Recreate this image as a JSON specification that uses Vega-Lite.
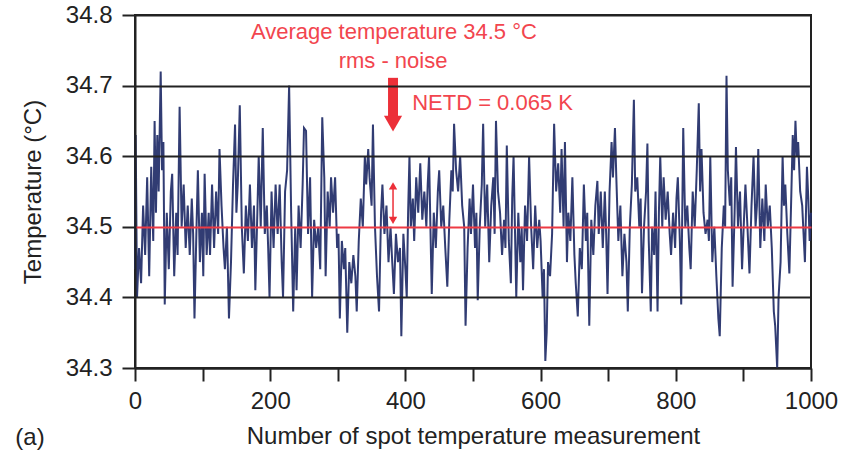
{
  "$schema": "https://vega.github.io/schema/vega-lite/v6.json",
  "width": 676,
  "height": 353,
  "autosize": "none",
  "padding": {"left": 135, "top": 15, "right": 41, "bottom": 83},
  "background": "white",
  "config": {
    "font": "Liberation Sans",
    "view": {"stroke": "#222", "strokeWidth": 2}
  },
  "datasets": {
    "series": [
{"n":0,"t":34.44},{"n":1,"t":34.63},{"n":3,"t":34.40},{"n":6,"t":34.47},{"n":9,"t":34.42},{"n":12,"t":34.53},{"n":15,"t":34.46},{"n":18,"t":34.57},{"n":21,"t":34.43},{"n":24,"t":34.585},{"n":27,"t":34.48},{"n":29,"t":34.65},{"n":31,"t":34.52},{"n":33,"t":34.63},{"n":35,"t":34.55},{"n":38,"t":34.72},{"n":40,"t":34.58},{"n":42,"t":34.62},{"n":44,"t":34.39},{"n":47,"t":34.52},{"n":50,"t":34.44},{"n":53,"t":34.55},{"n":55,"t":34.575},{"n":58,"t":34.43},{"n":61,"t":34.52},{"n":63,"t":34.46},{"n":66,"t":34.67},{"n":69,"t":34.50},{"n":72,"t":34.56},{"n":75,"t":34.47},{"n":78,"t":34.53},{"n":81,"t":34.46},{"n":84,"t":34.54},{"n":86,"t":34.49},{"n":88,"t":34.37},{"n":91,"t":34.50},{"n":93,"t":34.58},{"n":96,"t":34.45},{"n":99,"t":34.52},{"n":101,"t":34.43},{"n":103,"t":34.575},{"n":106,"t":34.46},{"n":109,"t":34.52},{"n":111,"t":34.46},{"n":114,"t":34.56},{"n":117,"t":34.47},{"n":120,"t":34.55},{"n":123,"t":34.49},{"n":125,"t":34.61},
{"n":128,"t":34.53},{"n":131,"t":34.47},{"n":133,"t":34.44},{"n":136,"t":34.50},{"n":139,"t":34.37},{"n":142,"t":34.45},{"n":145,"t":34.56},{"n":148,"t":34.645},{"n":150,"t":34.52},{"n":152,"t":34.56},{"n":155,"t":34.672},{"n":158,"t":34.50},{"n":161,"t":34.434},{"n":164,"t":34.53},{"n":167,"t":34.48},{"n":170,"t":34.56},{"n":173,"t":34.47},{"n":176,"t":34.53},{"n":178,"t":34.41},{"n":181,"t":34.52},{"n":183,"t":34.60},{"n":186,"t":34.50},{"n":189,"t":34.64},{"n":192,"t":34.49},{"n":195,"t":34.53},{"n":197,"t":34.47},{"n":199,"t":34.40},{"n":202,"t":34.55},{"n":205,"t":34.47},{"n":208,"t":34.56},{"n":211,"t":34.49},{"n":214,"t":34.56},{"n":217,"t":34.45},{"n":219,"t":34.40},{"n":222,"t":34.55},{"n":225,"t":34.58},{"n":228,"t":34.70},{"n":231,"t":34.52},{"n":234,"t":34.38},{"n":237,"t":34.50},{"n":239,"t":34.41},{"n":242,"t":34.53},{"n":245,"t":34.47},{"n":248,"t":34.56},{"n":250,"t":34.64},
{"n":253,"t":34.636},{"n":256,"t":34.49},{"n":259,"t":34.57},{"n":262,"t":34.40},{"n":265,"t":34.51},{"n":268,"t":34.47},{"n":271,"t":34.50},{"n":274,"t":34.44},{"n":277,"t":34.655},{"n":280,"t":34.57},{"n":282,"t":34.43},{"n":285,"t":34.55},{"n":288,"t":34.50},{"n":290,"t":34.57},{"n":293,"t":34.52},{"n":296,"t":34.57},{"n":299,"t":34.47},{"n":301,"t":34.49},{"n":303,"t":34.37},{"n":306,"t":34.48},{"n":309,"t":34.44},{"n":311,"t":34.47},{"n":314,"t":34.35},{"n":317,"t":34.45},{"n":320,"t":34.42},{"n":323,"t":34.46},{"n":326,"t":34.43},{"n":328,"t":34.38},{"n":331,"t":34.48},{"n":334,"t":34.54},{"n":337,"t":34.50},{"n":340,"t":34.60},{"n":342,"t":34.56},{"n":345,"t":34.61},{"n":347,"t":34.57},{"n":350,"t":34.53},{"n":352,"t":34.645},{"n":355,"t":34.50},{"n":358,"t":34.43},{"n":361,"t":34.38},{"n":364,"t":34.52},{"n":366,"t":34.56},{"n":369,"t":34.49},{"n":372,"t":34.53},{"n":375,"t":34.45},
{"n":378,"t":34.50},{"n":380,"t":34.46},{"n":383,"t":34.405},{"n":386,"t":34.49},{"n":389,"t":34.45},{"n":392,"t":34.47},{"n":394,"t":34.345},{"n":397,"t":34.49},{"n":400,"t":34.44},{"n":402,"t":34.40},{"n":404,"t":34.52},{"n":406,"t":34.60},{"n":408,"t":34.50},{"n":411,"t":34.54},{"n":413,"t":34.48},{"n":416,"t":34.57},{"n":419,"t":34.52},{"n":422,"t":34.59},{"n":425,"t":34.51},{"n":428,"t":34.55},{"n":431,"t":34.50},{"n":433,"t":34.56},{"n":435,"t":34.60},{"n":437,"t":34.50},{"n":439,"t":34.405},{"n":442,"t":34.52},{"n":445,"t":34.47},{"n":448,"t":34.55},{"n":450,"t":34.58},{"n":453,"t":34.50},{"n":456,"t":34.53},{"n":459,"t":34.47},{"n":462,"t":34.415},{"n":465,"t":34.51},{"n":468,"t":34.58},{"n":470,"t":34.55},{"n":472,"t":34.646},{"n":475,"t":34.58},{"n":478,"t":34.55},{"n":481,"t":34.60},{"n":484,"t":34.53},{"n":487,"t":34.50},{"n":489,"t":34.36},{"n":492,"t":34.47},{"n":495,"t":34.54},{"n":497,"t":34.49},{"n":500,"t":34.56},
{"n":503,"t":34.47},{"n":505,"t":34.52},{"n":507,"t":34.396},{"n":510,"t":34.50},{"n":513,"t":34.56},{"n":515,"t":34.646},{"n":518,"t":34.50},{"n":521,"t":34.56},{"n":524,"t":34.45},{"n":527,"t":34.53},{"n":530,"t":34.57},{"n":532,"t":34.49},{"n":534,"t":34.65},{"n":537,"t":34.55},{"n":540,"t":34.52},{"n":543,"t":34.46},{"n":546,"t":34.51},{"n":548,"t":34.47},{"n":550,"t":34.615},{"n":553,"t":34.48},{"n":556,"t":34.42},{"n":558,"t":34.54},{"n":560,"t":34.60},{"n":562,"t":34.50},{"n":564,"t":34.40},{"n":567,"t":34.52},{"n":570,"t":34.45},{"n":572,"t":34.50},{"n":574,"t":34.41},{"n":577,"t":34.53},{"n":580,"t":34.48},{"n":583,"t":34.60},{"n":586,"t":34.50},{"n":589,"t":34.44},{"n":592,"t":34.53},{"n":595,"t":34.47},{"n":598,"t":34.51},{"n":600,"t":34.48},{"n":603,"t":34.40},{"n":605,"t":34.44},{"n":607,"t":34.31},{"n":609,"t":34.35},{"n":611,"t":34.45},{"n":614,"t":34.43},{"n":617,"t":34.49},{"n":620,"t":34.646},{"n":623,"t":34.55},{"n":626,"t":34.59},{"n":629,"t":34.52},
{"n":631,"t":34.61},{"n":634,"t":34.50},{"n":636,"t":34.62},{"n":639,"t":34.45},{"n":641,"t":34.52},{"n":644,"t":34.48},{"n":647,"t":34.57},{"n":650,"t":34.46},{"n":652,"t":34.42},{"n":655,"t":34.373},{"n":658,"t":34.47},{"n":661,"t":34.44},{"n":664,"t":34.56},{"n":667,"t":34.48},{"n":669,"t":34.52},{"n":672,"t":34.36},{"n":675,"t":34.51},{"n":678,"t":34.46},{"n":681,"t":34.53},{"n":684,"t":34.565},{"n":686,"t":34.49},{"n":689,"t":34.55},{"n":692,"t":34.47},{"n":695,"t":34.55},{"n":697,"t":34.49},{"n":699,"t":34.405},{"n":702,"t":34.55},{"n":705,"t":34.62},{"n":707,"t":34.57},{"n":710,"t":34.64},{"n":712,"t":34.57},{"n":715,"t":34.48},{"n":718,"t":34.53},{"n":721,"t":34.43},{"n":724,"t":34.49},{"n":727,"t":34.45},{"n":729,"t":34.38},{"n":732,"t":34.50},{"n":735,"t":34.56},{"n":738,"t":34.68},{"n":740,"t":34.55},{"n":743,"t":34.57},{"n":746,"t":34.50},{"n":748,"t":34.54},{"n":750,"t":34.406},{"n":753,"t":34.50},
{"n":756,"t":34.55},{"n":758,"t":34.618},{"n":760,"t":34.48},{"n":763,"t":34.38},{"n":765,"t":34.50},{"n":768,"t":34.46},{"n":770,"t":34.55},{"n":773,"t":34.38},{"n":775,"t":34.52},{"n":777,"t":34.60},{"n":780,"t":34.50},{"n":782,"t":34.57},{"n":785,"t":34.51},{"n":788,"t":34.55},{"n":791,"t":34.49},{"n":793,"t":34.46},{"n":796,"t":34.52},{"n":799,"t":34.47},{"n":801,"t":34.54},{"n":803,"t":34.57},{"n":806,"t":34.48},{"n":808,"t":34.39},{"n":811,"t":34.64},{"n":814,"t":34.50},{"n":817,"t":34.53},{"n":820,"t":34.47},{"n":822,"t":34.44},{"n":825,"t":34.55},{"n":828,"t":34.50},{"n":831,"t":34.58},{"n":834,"t":34.675},{"n":836,"t":34.55},{"n":838,"t":34.61},{"n":841,"t":34.52},{"n":844,"t":34.49},{"n":847,"t":34.51},{"n":849,"t":34.48},{"n":851,"t":34.60},{"n":854,"t":34.45},{"n":857,"t":34.50},{"n":860,"t":34.43},{"n":863,"t":34.37},{"n":865,"t":34.345},{"n":868,"t":34.47},{"n":871,"t":34.53},{"n":873,"t":34.50},{"n":875,"t":34.714},{"n":877,"t":34.58},
{"n":880,"t":34.53},{"n":882,"t":34.57},{"n":884,"t":34.415},{"n":887,"t":34.52},{"n":889,"t":34.613},{"n":892,"t":34.50},{"n":895,"t":34.55},{"n":898,"t":34.44},{"n":900,"t":34.49},{"n":903,"t":34.56},{"n":906,"t":34.50},{"n":909,"t":34.434},{"n":912,"t":34.53},{"n":915,"t":34.60},{"n":918,"t":34.50},{"n":920,"t":34.53},{"n":922,"t":34.61},{"n":925,"t":34.47},{"n":928,"t":34.54},{"n":931,"t":34.48},{"n":933,"t":34.56},{"n":936,"t":34.50},{"n":939,"t":34.53},{"n":942,"t":34.47},{"n":945,"t":34.38},{"n":947,"t":34.36},{"n":950,"t":34.30},{"n":952,"t":34.40},{"n":955,"t":34.45},{"n":958,"t":34.60},{"n":960,"t":34.53},{"n":962,"t":34.56},{"n":965,"t":34.49},{"n":968,"t":34.434},{"n":971,"t":34.55},{"n":973,"t":34.63},{"n":975,"t":34.58},{"n":977,"t":34.65},{"n":979,"t":34.60},{"n":981,"t":34.62},{"n":984,"t":34.55},{"n":987,"t":34.53},{"n":989,"t":34.49},{"n":991,"t":34.45},{"n":994,"t":34.585},{"n":996,"t":34.54},{"n":998,"t":34.48},{"n":1000,"t":34.52}
    ],
    "centerText": [
      {"n": 383, "t": 34.766, "label": "Average temperature 34.5 °C"},
      {"n": 381.7, "t": 34.725, "label": "rms - noise"}
    ],
    "leftText": [
      {"n": 410, "t": 34.665, "label": "NETD = 0.065 K"}
    ],
    "panelLabel": [
      {"n": -177, "t": 34.191, "label": "(a)"}
    ],
    "bigArrow": [{"n": 381.7, "t": 34.711, "t2": 34.655}],
    "bigHead": [{"n": 381.7, "t": 34.646}],
    "smallArrow": [{"n": 381.7, "t": 34.51, "t2": 34.558}],
    "smallUp": [{"n": 381.7, "t": 34.558}],
    "smallDown": [{"n": 381.7, "t": 34.509}]
  },
  "encoding": {
    "x": {
      "field": "n",
      "type": "quantitative",
      "scale": {"domain": [0, 1000], "nice": false},
      "axis": {
        "title": "Number of spot temperature measurement",
        "values": [0, 100, 200, 300, 400, 500, 600, 700, 800, 900, 1000],
        "labelExpr": "datum.value % 200 === 0 ? datum.label : ''",
        "format": "d",
        "grid": false,
        "tickSize": 13,
        "tickWidth": 2,
        "tickColor": "#222",
        "domainColor": "#222",
        "domainWidth": 2,
        "labelFontSize": 24,
        "labelColor": "#222",
        "labelPadding": 8,
        "labelFlush": false,
        "labelOverlap": false,
        "titleFontSize": 24,
        "titleFontWeight": "normal",
        "titleColor": "#222",
        "titlePadding": 11
      }
    },
    "y": {
      "field": "t",
      "type": "quantitative",
      "scale": {"domain": [34.3, 34.8], "nice": false, "zero": false},
      "axis": {
        "title": "Temperature (°C)",
        "values": [34.3, 34.4, 34.5, 34.6, 34.7, 34.8],
        "format": ".1f",
        "grid": true,
        "gridColor": {"condition": {"test": "abs(datum.value - 34.5) < 0.001", "value": "#ee3a44"}, "value": "#222"},
        "gridWidth": {"condition": {"test": "abs(datum.value - 34.5) < 0.001", "value": 2}, "value": 2},
        "zindex": 1,
        "tickSize": 13,
        "tickWidth": 2,
        "tickColor": "#222",
        "domainColor": "#222",
        "domainWidth": 2,
        "labelFontSize": 24,
        "labelColor": "#222",
        "labelPadding": 10,
        "labelFlush": false,
        "labelOverlap": false,
        "titleFontSize": 24,
        "titleFontWeight": "normal",
        "titleColor": "#222",
        "titlePadding": 20
      }
    }
  },
  "layer": [
    {
      "data": {"name": "series"},
      "mark": {"type": "line", "color": "#26316c", "strokeWidth": 2, "opacity": 0.95}
    },
    {
      "data": {"name": "bigArrow"},
      "mark": {"type": "rule", "color": "#ec2f38", "strokeWidth": 10},
      "encoding": {"y2": {"field": "t2"}}
    },
    {
      "data": {"name": "bigHead"},
      "mark": {"type": "point", "shape": "triangle-down", "filled": true, "color": "#ec2f38", "size": 330, "opacity": 1}
    },
    {
      "data": {"name": "smallArrow"},
      "mark": {"type": "rule", "color": "#ec2f38", "strokeWidth": 1.5},
      "encoding": {"y2": {"field": "t2"}}
    },
    {
      "data": {"name": "smallUp"},
      "mark": {"type": "point", "shape": "triangle-up", "filled": true, "color": "#ec2f38", "size": 70, "opacity": 1}
    },
    {
      "data": {"name": "smallDown"},
      "mark": {"type": "point", "shape": "triangle-down", "filled": true, "color": "#ec2f38", "size": 70, "opacity": 1}
    },
    {
      "data": {"name": "centerText"},
      "mark": {"type": "text", "align": "center", "baseline": "alphabetic", "fontSize": 22, "color": "#f2454e"},
      "encoding": {"text": {"field": "label"}}
    },
    {
      "data": {"name": "leftText"},
      "mark": {"type": "text", "align": "left", "baseline": "alphabetic", "fontSize": 22, "color": "#f2454e"},
      "encoding": {"text": {"field": "label"}}
    },
    {
      "data": {"name": "panelLabel"},
      "mark": {"type": "text", "align": "left", "baseline": "alphabetic", "fontSize": 24, "color": "#222", "clip": false},
      "encoding": {"text": {"field": "label"}}
    }
  ]
}
